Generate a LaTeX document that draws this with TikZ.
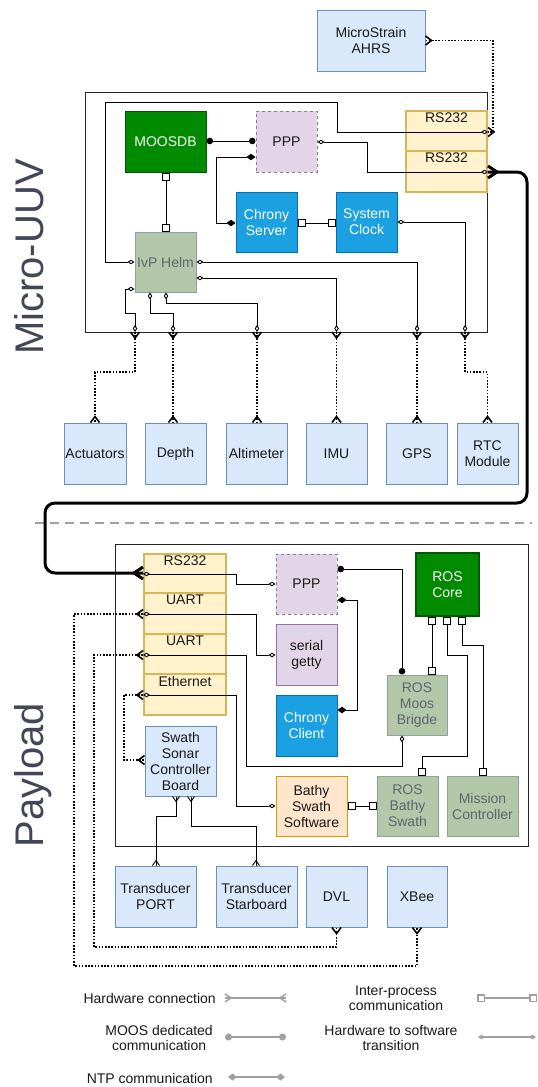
\documentclass[tikz,border=0pt]{standalone}
\usepackage{fontspec}
\setmainfont{Liberation Sans}
\usetikzlibrary{arrows.meta}

% crow's foot tip: two prongs opening towards the end point, line runs to the end
\pgfdeclarearrow{
  name = Crow,
  parameters = {\the\pgfarrowlength,\the\pgfarrowwidth},
  setup code = {
    \pgfarrowssettipend{0pt}
    \pgfarrowssetlineend{0pt}
    \pgfarrowssetvisualbackend{-\pgfarrowlength}
    \pgfarrowssetbackend{-\pgfarrowlength}
    \pgfarrowsupperhullpoint{0pt}{.5\pgfarrowwidth}
    \pgfarrowsupperhullpoint{-\pgfarrowlength}{0pt}
    \pgfarrowssavethe\pgfarrowlength
    \pgfarrowssavethe\pgfarrowwidth
  },
  drawing code = {
    \pgfsetdash{}{0pt}
    \pgfpathmoveto{\pgfqpoint{0pt}{.5\pgfarrowwidth}}
    \pgfpathlineto{\pgfqpoint{-\pgfarrowlength}{0pt}}
    \pgfpathlineto{\pgfqpoint{0pt}{-.5\pgfarrowwidth}}
    \pgfusepathqstroke
  },
  defaults = {length = 6pt, width = 9pt}
}

\definecolor{lbfill}{HTML}{DAE8FC}\definecolor{lbline}{HTML}{6C8EBF}
\definecolor{yfill}{HTML}{FFF2CC}\definecolor{yline}{HTML}{D6B656}
\definecolor{pfill}{HTML}{E1D5E7}\definecolor{pline}{HTML}{9673A6}
\definecolor{bfill}{HTML}{1BA1E2}\definecolor{bline}{HTML}{006EAF}
\definecolor{dgfill}{HTML}{008A00}\definecolor{dgline}{HTML}{005700}
\definecolor{gfill}{HTML}{B3C8A8}\definecolor{gline}{HTML}{8FA495}
\definecolor{gtext}{HTML}{5E6470}\definecolor{hline}{HTML}{8D9CB5}
\definecolor{ofill}{HTML}{FFE6CC}\definecolor{oline}{HTML}{D79B00}
\definecolor{sidetext}{HTML}{424656}
\definecolor{legendgray}{HTML}{A0A0A0}

\begin{document}
\begin{tikzpicture}[x=1pt,y=-1pt,
  every node/.style={font=\fontsize{14}{16}\selectfont, align=center, inner sep=0pt},
  sz/.style 2 args={minimum width=#1pt, minimum height=#2pt},
  frame/.style={draw=black!85, line width=1pt},
  hwbox/.style={draw=lbline, fill=lbfill, line width=1pt, text=black!90},
  portbox/.style={draw=yline, fill=yfill, line width=2pt},
  portlabel/.style={label={[anchor=north, yshift=-3pt, font=\fontsize{14}{16}\selectfont, text=black!90]north:#1}},
  procbox/.style={draw=pline, fill=pfill, line width=1pt, text=black!90},
  clockbox/.style={draw=bline, fill=bfill, line width=1pt, text=white},
  corebox/.style={draw=dgline, fill=dgfill, line width=1pt, text=white},
  rosbox/.style={draw=gline, fill=gfill, line width=1pt, text=gtext},
  appbox/.style={draw=oline, fill=ofill, line width=1pt, text=black!90},
  sw/.style={line width=0.9pt, {Diamond[fill=white, length=7pt, width=4.5pt]}-{Diamond[fill=white, length=7pt, width=4.5pt]}},
  moos/.style={line width=0.9pt, {Circle[length=6.5pt]}-{Circle[length=6.5pt]}},
  ntp/.style={line width=0.9pt, {Diamond[length=9pt, width=6.5pt]}-{Diamond[length=9pt, width=6.5pt]}},
  ipc/.style={line width=0.9pt, {Square[fill=white, length=8pt, width=8pt]}-{Square[fill=white, length=8pt, width=8pt]}},
  hw/.style={line width=1.6pt, dash pattern=on 1.6pt off 1.6pt, {Crow[length=6pt, width=9pt]}-{Crow[length=6pt, width=9pt]}},
  hwthin/.style={line width=0.9pt, {Crow[length=5pt, width=7pt]}-{Crow[length=5pt, width=7pt]}},
  hwmain/.style={line width=3pt, rounded corners=10pt, {Crow[length=9pt, width=12pt]}-{Crow[length=9pt, width=12pt]}},
  side/.style={font=\fontsize{40}{44}\selectfont, text=sidetext, rotate=90, anchor=base},
  legendline/.style={draw=legendgray, line width=1.5pt},
  legendtext/.style={font=\fontsize{14}{15}\selectfont, text=black!90},
]
\useasboundingbox (0,0) rectangle (538,1087);
\fill[white] (0,0) rectangle (538,1087);

% ---------------- Micro-UUV ----------------
\node[hwbox, sz={108}{61}] (ahrs) at (371,40.5) {MicroStrain\\AHRS};
\node[frame, sz={402}{240}] (uuv) at (286,212) {};
\node[side] (uuvlabel) at (43,257) {Micro-UUV};

\node[corebox, sz={81}{61}] (mdb) at (165.5,141.5) {MOOSDB};
\node[procbox, dashed, sz={61}{61}] (pppa) at (286.5,141.5) {PPP};
\node[clockbox, sz={61}{60}] (chs) at (266.5,222) {Chrony\\Server};
\node[clockbox, sz={61}{60}] (clk) at (366.5,222) {System\\Clock};
\node[portbox, sz={81}{40}, portlabel=RS232] (rsa) at (446.5,131) {};
\node[portbox, sz={81}{41}, portlabel=RS232] (rsb) at (446.5,171.5) {};
\node[rosbox, draw=hline, sz={61}{60}] (helm) at (165.5,262) {IvP Helm};

\node[hwbox, sz={62}{61}] (act) at (95,453.5) {Actuators};
\node[hwbox, sz={61}{61}] (dep) at (175.5,453.5) {Depth};
\node[hwbox, sz={61}{61}] (alt) at (256.5,453.5) {Altimeter};
\node[hwbox, sz={61}{61}] (imu) at (336.5,453.5) {IMU};
\node[hwbox, sz={61}{61}] (gps) at (417,453.5) {GPS};
\node[hwbox, sz={61}{61}] (rtc) at (487.5,453.5) {RTC\\Module};

% exits through the bottom of the vehicle frame
\coordinate (pAct) at (135,332);
\coordinate (pDep) at (173,332);
\coordinate (pAlt) at (257,332);
\coordinate (pImu) at (336.5,332);
\coordinate (pGps) at (417,332);
\coordinate (pRtc) at (465,332);

% software links inside the vehicle
\draw[moos] (mdb.east |- 0,141) -- (pppa.west |- 0,141);
\draw[ntp] (pppa.west |- 0,157) -| (216,223) -- (chs.west |- 0,223);
\draw[ipc] (chs.east |- 0,223) -- (clk.west |- 0,223);
\draw[ipc] (mdb.south -| 166,0) -- (helm.north -| 166,0);
\draw[sw] (pppa.east |- 0,142) -| (367,172) -- (rsb.east |- 0,172);
\draw[sw] (helm.west |- 0,262) -- (105,262) |- (337,102) |- (rsa.east |- 0,132);
\draw[sw] (clk.east |- 0,222) -| (pRtc);
\draw[sw] (helm.east |- 0,262) -| (pGps);
\draw[sw] (helm.east |- 0,278) -| (pImu);
\draw[sw] (helm.west |- 0,289) -- (125,289) |- (135,313) -- (pAct);
\draw[sw] (helm.south -| 150,0) |- (173,313) -- (pDep);
\draw[sw] (helm.south -| 166,0) |- (257,303) -- (pAlt);

% hardware links of the vehicle
\draw[hw] (ahrs.east) -| (493,132) -- (rsa.east |- 0,132);
\draw[hw] (pAct) -- (135,372) -| (act.north);
\draw[hw] (pDep) -- (dep.north -| pDep);
\draw[hw] (pAlt) -- (alt.north -| pAlt);
\draw[hw] (pImu) -- (imu.north -| pImu);
\draw[hw] (pGps) -- (gps.north -| pGps);
\draw[hw] (pRtc) -- (465,372) -| (rtc.north);

% separator between the two sections
\draw[legendgray, line width=2pt, dash pattern=on 9pt off 6pt] (35,523) -- (532,523);

% ---------------- Payload ----------------
\node[frame, sz={413}{302}] (pay) at (321.5,695) {};
\node[side] (paylabel) at (43,775) {Payload};

\node[portbox, sz={82}{39}, portlabel=RS232] (prs) at (185,573.5) {};
\node[portbox, sz={82}{41}, portlabel=UART] (uarta) at (185,613.5) {};
\node[portbox, sz={82}{40}, portlabel=UART] (uartb) at (185,654) {};
\node[portbox, sz={82}{41}, portlabel=Ethernet] (eth) at (185,694.5) {};

\node[procbox, dashed, sz={61}{60}] (pppb) at (306.5,584) {PPP};
\node[procbox, sz={61}{61}] (getty) at (306.5,654.5) {serial\\getty};
\node[clockbox, sz={61}{61}] (chc) at (306.5,725.5) {Chrony\\Client};
\node[corebox, line width=2pt, sz={63}{63}] (core) at (447.5,584.5) {ROS\\Core};
\node[rosbox, sz={60}{60}] (bridge) at (417,705) {ROS\\Moos\\Brigde};
\node[appbox, sz={71}{60}] (bathy) at (311.5,806) {Bathy\\Swath\\Software};
\node[rosbox, sz={61}{60}] (rbs) at (407.5,806) {ROS\\Bathy\\Swath};
\node[rosbox, sz={71}{60}] (mc) at (482.5,806) {Mission\\Controller};
\node[hwbox, sz={71}{70}] (sonar) at (180.5,761) {Swath\\Sonar\\Controller\\Board};

\node[hwbox, sz={81}{61}] (tport) at (155.5,896.5) {Transducer\\PORT};
\node[hwbox, sz={81}{61}] (tstar) at (256.5,896.5) {Transducer\\Starboard};
\node[hwbox, sz={61}{61}] (dvl) at (336.5,896.5) {DVL};
\node[hwbox, sz={60}{61}] (xbee) at (417,896.5) {XBee};

% software links of the payload
\draw[sw] (prs.west |- 0,574) -| (236,584) -- (pppb.west |- 0,584);
\draw[sw] (uarta.west |- 0,614) -| (256,655) -- (getty.west |- 0,655);
\draw[sw] (uartb.west |- 0,655) -| (246,766) -| (bridge.south -| 402,0);
\draw[sw] (eth.west |- 0,695) -| (236,806) -- (bathy.west |- 0,806);
\draw[moos] (pppb.east |- 0,569) -| (bridge.north -| 402,0);
\draw[ntp] (pppb.east |- 0,600) -| (357,710) -- (chc.east |- 0,710);
\draw[ipc] (core.south -| 432,0) -- (bridge.north -| 432,0);
\draw[ipc] (core.south -| 447,0) |- (467,655) |- (422,756) -- (rbs.north -| 422,0);
\draw[ipc] (core.south -| 462,0) |- (483,645) -- (mc.north -| 483,0);
\draw[ipc] (bathy.east) -- (rbs.west);

% hardware links of the payload
\draw[hw] (eth.west |- 0,695) -- (124,695) |- (sonar.west |- 0,760);
\draw[hw] (uarta.west |- 0,614) -- (74,614) |- (417,966) -- (xbee.south);
\draw[hw] (uartb.west |- 0,655) -- (94,655) |- (336.5,947) -- (dvl.south);
\draw[hwthin] (sonar.south -| 176,0) |- (156,816) -- (tport.north -| 156,0);
\draw[hwthin] (sonar.south -| 191,0) |- (256,826) -- (tstar.north -| 256,0);

% serial link between vehicle and payload
\draw[hwmain] (rsb.east |- 0,172) -- (527,172) -- (527,503) -- (45,503) -- (45,573) -- (prs.west |- 0,573);

% ---------------- Legend ----------------
\node[legendtext, anchor=east] (lghw) at (216,998) {Hardware connection};
\coordinate (lghwa) at (225,998); \coordinate (lghwb) at (286,998);
\draw[legendline, {Crow[length=6pt, width=8pt]}-{Crow[length=6pt, width=8pt]}] (lghwa) -- (lghwb);

\node[legendtext, anchor=east] (lgmoos) at (213,1038) {MOOS dedicated\\communication};
\coordinate (lgmoosa) at (225,1037); \coordinate (lgmoosb) at (286,1037);
\draw[legendline, fill=legendgray, {Circle[length=7pt]}-{Circle[length=7pt]}] (lgmoosa) -- (lgmoosb);

\node[legendtext, anchor=east] (lgntp) at (213,1078) {NTP communication};
\coordinate (lgntpa) at (228,1077); \coordinate (lgntpb) at (285,1077);
\draw[legendline, fill=legendgray, {Diamond[length=9pt, width=7pt]}-{Diamond[length=9pt, width=7pt]}] (lgntpa) -- (lgntpb);

\node[legendtext] (lgipc) at (396,998) {Inter-process\\communication};
\coordinate (lgipca) at (477,998); \coordinate (lgipcb) at (537,998);
\draw[legendline, {Square[fill=white, length=8pt, width=8pt]}-{Square[fill=white, length=8pt, width=8pt]}] (lgipca) -- (lgipcb);

\node[legendtext] (lgsw) at (391,1038) {Hardware to software\\transition};
\coordinate (lgswa) at (478,1037); \coordinate (lgswb) at (536,1037);
\draw[legendline, {Diamond[fill=white, length=7pt, width=4.5pt]}-{Diamond[fill=white, length=7pt, width=4.5pt]}] (lgswa) -- (lgswb);
\end{tikzpicture}
\end{document}
